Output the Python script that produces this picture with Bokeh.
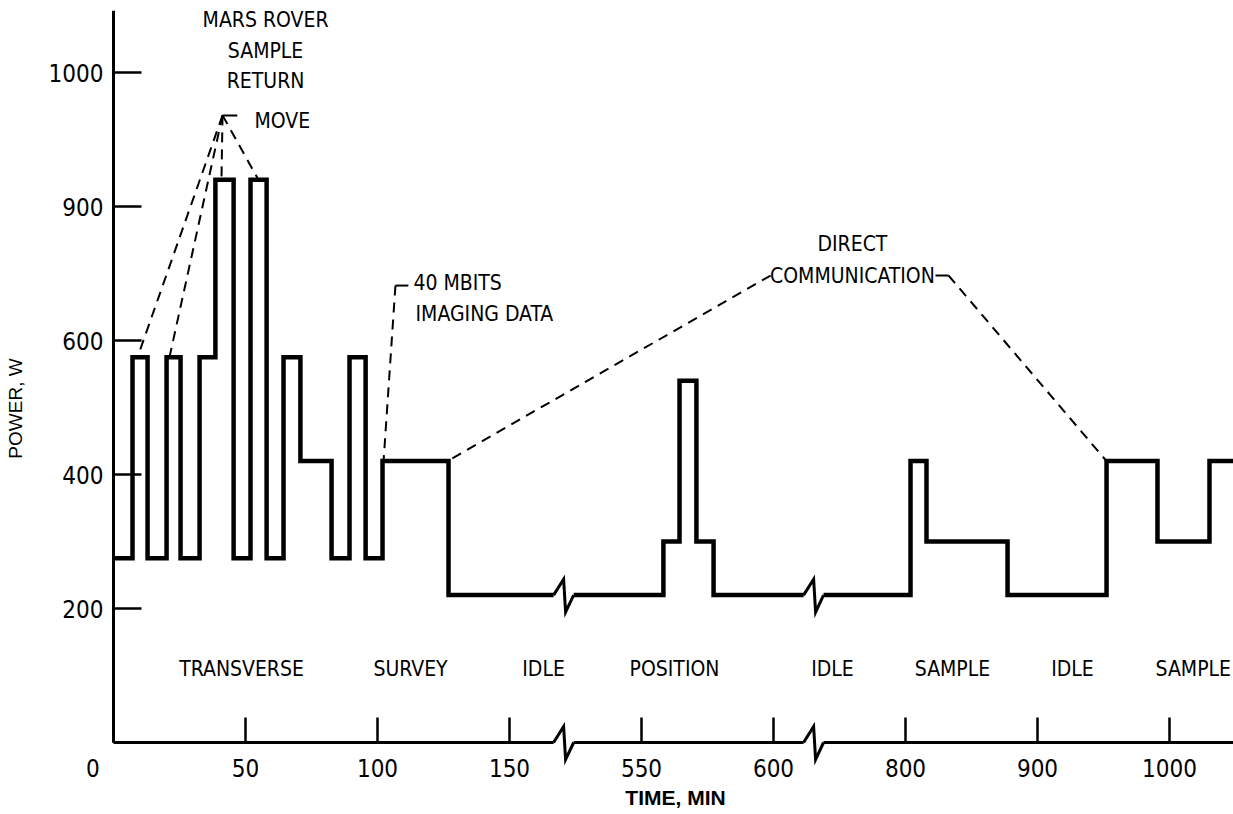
import numpy as np
from bokeh.plotting import figure
from bokeh.models import Range1d, LinearAxis, FixedTicker, Label
from bokeh.core.properties import value
from bokeh.embed import file_html
from bokeh.resources import INLINE

# ---------------- data ----------------
# step transitions (minutes) and the power level (W) that starts at each
time_min = [0, 7.2, 12.9, 20.1, 25.4, 32.6, 38.6, 45.5, 51.9, 58.0, 64.4, 70.8,
            82.6, 89.4, 95.5, 101.9, 126.9,
            558.3, 564.4, 570.8, 577.3,
            803.8, 815.9, 877.3, 952.3, 990.9, 1030.3]
power_w = [275, 575, 275, 575, 275, 575, 920, 275, 920, 275, 575, 420,
           275, 575, 275, 420, 220,
           300, 540, 300, 220,
           420, 300, 220, 420, 300, 420]
# visible pieces of the broken time axis (minutes)
segments_min = [(0, 166.7), (524.3, 611.4), (737.9, 1050)]

phase_labels = ["TRANSVERSE", "SURVEY", "IDLE", "POSITION", "IDLE", "SAMPLE", "IDLE", "SAMPLE"]
phase_min = [48.5, 112.5, 162.9, 562.5, 744.7, 835.6, 926.5, 1018]
phase_w = 110

x_ticks = [0, 50, 100, 150, 550, 600, 800, 900, 1000]
y_ticks = [200, 400, 600, 900, 1000]
y_axis_top_w = 1046

# annotations
title_lines = ["MARS ROVER", "SAMPLE", "RETURN"]
title_min = 57.6
title_w = [1039, 1016, 994]
move_text = ("MOVE", 53.4, 964)
move_apex = (41.3, 968)
move_bar_end_min = 46.9
move_targets_min = [9.1, 21.2, 40.9, 54.9]

img_lines = ["40 MBITS", "IMAGING DATA"]
img_min = [113.6, 114.4]
img_w = [728, 660]
img_corner = (106.8, 723)
img_bar_end_min = 111.7
img_target_min = 102.3

comm_lines = ["DIRECT", "COMMUNICATION"]
comm_min = 759.8
comm_w = [815, 745.5]
comm_left_start = (598.9, 745.5)
comm_left_target_min = 126.5
comm_right_bar = (822.7, 832.6, 745.5)
comm_right_target_min = 952.3

# ---------------- broken scales ----------------
def tx(t):
    t = np.asarray(t, dtype=float)
    return np.where(t < 345, t / 50.0,
                    np.where(t < 675, 4 + (t - 550) / 50.0, 6 + (t - 800) / 100.0))

W_KNOTS = [0, 200, 400, 600, 900, 1000, 1100]
V_KNOTS = [0, 1, 2, 3, 4, 5, 6]

def vy(w):
    return np.interp(w, W_KNOTS, V_KNOTS)

def level_at(t):
    i = int(np.searchsorted(time_min, t, side="right")) - 1
    return power_w[i]

def step_path(a, b):
    xs, ys = [a], [level_at(a)]
    for t, w in zip(time_min, power_w):
        if a < t < b:
            xs += [t, t]
            ys += [ys[-1], w]
    xs.append(b)
    ys.append(ys[-1])
    return list(tx(xs)), list(vy(ys))

def zigzag(t0, t1, w):
    u0, u1 = float(tx(t0)), float(tx(t1))
    v = float(vy(w))
    return [u0, u0 + 0.076, u0 + 0.091, u1], [v, v + 0.119, v - 0.127, v]

FONT_N = "'Liberation Sans Narrow', 'DejaVu Sans Condensed', 'Liberation Sans', sans-serif"
FONT_R = "'Liberation Sans', 'DejaVu Sans', sans-serif"
TXT = "21px"

p = figure(width=1233, height=814,
           x_range=Range1d(-113 / 132, 1120 / 132), y_range=Range1d(-72 / 134, 742 / 134),
           x_axis_location=None, y_axis_location=None, toolbar_location=None,
           output_backend="svg", min_border=0, outline_line_color=None,
           background_fill_color="white", border_fill_color="white")
p.xgrid.grid_line_color = None
p.ygrid.grid_line_color = None

# axes (ticks + labels) through Bokeh
xaxis = LinearAxis(fixed_location=0,
                   ticker=FixedTicker(ticks=[float(tx(t)) for t in x_ticks]),
                   major_label_overrides={float(tx(t)): (str(t) if t else "0\u2007\u2007\u2007") for t in x_ticks},
                   axis_line_color=None, major_tick_in=25, major_tick_out=0,
                   major_tick_line_width=2.5, major_tick_line_color="black",
                   minor_tick_line_color=None, major_label_standoff=12,
                   major_label_text_font=FONT_N, major_label_text_font_size="24px",
                   major_label_text_color="black")
p.add_layout(xaxis, "below")

yaxis = LinearAxis(fixed_location=0,
                   ticker=FixedTicker(ticks=[float(vy(w)) for w in y_ticks]),
                   major_label_overrides={float(vy(w)): str(w) for w in y_ticks},
                   axis_line_color=None, major_tick_in=28, major_tick_out=0,
                   major_tick_line_width=2.5, major_tick_line_color="black",
                   minor_tick_line_color=None, major_label_standoff=10,
                   major_label_text_font=FONT_N, major_label_text_font_size="24px",
                   major_label_text_color="black")
p.add_layout(yaxis, "left")

# axis lines (broken x axis)
p.line(x=list(tx([0, 0])), y=list(vy([0, y_axis_top_w])), line_width=3, line_color="black")
p.multi_line(xs=[list(tx([a, b])) for a, b in segments_min],
             ys=[list(vy([0, 0])) for _ in segments_min], line_width=3, line_color="black")

# power step line
sx, sy = [], []
for a, b in segments_min:
    xs, ys = step_path(a, b)
    sx.append(xs)
    sy.append(ys)
p.multi_line(xs=sx, ys=sy, line_width=4.5, line_color="black", line_join="miter")

# break symbols on step line and x axis
zx, zy = [], []
for (a0, b0), (a1, b1) in zip(segments_min[:-1], segments_min[1:]):
    for w in (level_at(b0), 0):
        xs, ys = zigzag(b0, a1, w)
        zx.append(xs)
        zy.append(ys)
p.multi_line(xs=zx, ys=zy, line_width=3, line_color="black", line_join="miter")

# phase labels
p.text(x=list(tx(phase_min)), y=[float(vy(phase_w))] * len(phase_labels), text=phase_labels,
       text_font=value(FONT_N), text_font_size=TXT, text_align="center",
       text_baseline="middle", text_color="black")

# title block
p.text(x=[float(tx(title_min))] * 3 + [float(tx(comm_min))] * 2,
       y=list(vy(title_w)) + list(vy(comm_w)),
       text=title_lines + comm_lines,
       text_font=value(FONT_N), text_font_size=TXT, text_align="center",
       text_baseline="middle", text_color="black")
p.text(x=[float(tx(move_text[1]))] + list(tx(img_min)),
       y=[float(vy(move_text[2]))] + list(vy(img_w)),
       text=[move_text[0]] + img_lines,
       text_font=value(FONT_N), text_font_size=TXT, text_align="left",
       text_baseline="middle", text_color="black")

# leader lines: solid stubs
stub_x0 = [move_apex[0], img_corner[0], comm_right_bar[0]]
stub_x1 = [move_bar_end_min, img_bar_end_min, comm_right_bar[1]]
stub_w = [move_apex[1], img_corner[1], comm_right_bar[2]]
p.segment(x0=list(tx(stub_x0)), y0=list(vy(stub_w)), x1=list(tx(stub_x1)), y1=list(vy(stub_w)),
          line_width=2, line_color="black")

# dashed leaders
d_x0 = [move_apex[0]] * 4 + [img_corner[0], comm_left_start[0], comm_right_bar[1]]
d_w0 = [move_apex[1]] * 4 + [img_corner[1], comm_left_start[1], comm_right_bar[2]]
d_x1 = move_targets_min + [img_target_min, comm_left_target_min, comm_right_target_min]
d_w1 = [level_at(t) for t in d_x1]
p.segment(x0=list(tx(d_x0)), y0=list(vy(d_w0)), x1=list(tx(d_x1)), y1=list(vy(d_w1)),
          line_width=2, line_color="black", line_dash="10 7")

# axis titles
p.add_layout(Label(x=15, y=814 - 408, x_units="screen", y_units="screen", text="POWER, W",
                   angle=np.pi / 2, text_align="center", text_baseline="middle",
                   text_font=FONT_R, text_font_size="19px", text_color="black"))
p.add_layout(Label(x=675, y=814 - 797, x_units="screen", y_units="screen", text="TIME, MIN",
                   text_align="center", text_baseline="middle", text_font_style="bold",
                   text_font=FONT_R, text_font_size="21px", text_color="black"))

open("out.html", "w").write(file_html(p, INLINE))
